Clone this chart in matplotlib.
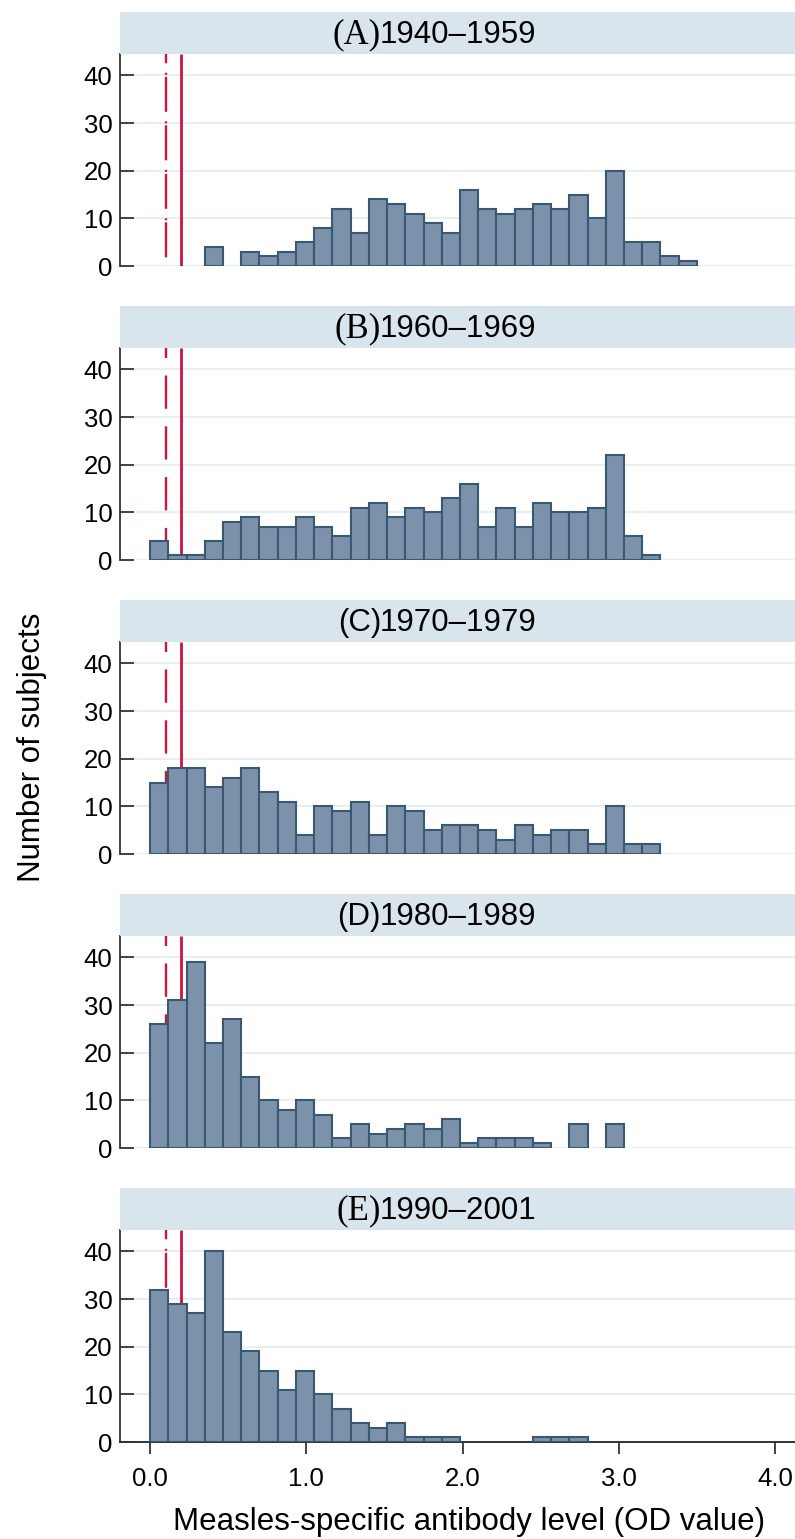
import matplotlib.pyplot as plt
import numpy as np
from matplotlib.patches import Rectangle

plt.rcParams['font.family'] = ['Liberation Sans', 'DejaVu Sans']
plt.rcParams['lines.scale_dashes'] = False

# histogram counts per bin (30 bins of equal width from 0 to 3.5 OD)
bin_start = 0.0
bin_width = 3.5 / 30

counts_a = [0, 0, 0, 4, 0, 3, 2, 3, 5, 8, 12, 7, 14, 13, 11, 9, 7, 16, 12, 11,
            12, 13, 12, 15, 10, 20, 5, 5, 2, 1]
counts_b = [4, 1, 1, 4, 8, 9, 7, 7, 9, 7, 5, 11, 12, 9, 11, 10, 13, 16, 7, 11,
            7, 12, 10, 10, 11, 22, 5, 1, 0, 0]
counts_c = [15, 18, 18, 14, 16, 18, 13, 11, 4, 10, 9, 11, 4, 10, 9, 5, 6, 6, 5, 3,
            6, 4, 5, 5, 2, 10, 2, 2, 0, 0]
counts_d = [26, 31, 39, 22, 27, 15, 10, 8, 10, 7, 2, 5, 3, 4, 5, 4, 6, 1, 2, 2,
            2, 1, 0, 5, 0, 5, 0, 0, 0, 0]
counts_e = [32, 29, 27, 40, 23, 19, 15, 11, 15, 10, 7, 4, 3, 4, 1, 1, 1, 0, 0, 0,
            0, 1, 1, 1, 0, 0, 0, 0, 0, 0]

letters = ['(A)', '(B)', '(C)', '(D)', '(E)']
periods = ['1940\u20131959', '1960\u20131969', '1970\u20131979', '1980\u20131989', '1990\u20132001']
letter_fonts = ['Liberation Serif', 'Liberation Serif', 'Liberation Sans', 'Liberation Sans', 'Liberation Serif']
cut_low = 0.1
cut_high = 0.2
x_ticks = [0, 1, 2, 3, 4]
x_ticklabels = ['0.0', '1.0', '2.0', '3.0', '4.0']
y_ticks = [0, 10, 20, 30, 40]

all_counts = [counts_a, counts_b, counts_c, counts_d, counts_e]

W, H = 795, 1539
fig = plt.figure(figsize=(W / 100, H / 100), dpi=100)


def fx(px):
    return px / W


def fy(py):
    return 1 - py / H


fill = '#7c92aa'
edge = '#385873'
red = '#cf1339'
header_col = '#d9e5ec'
grid_col = '#e6eff3'
dark = '#333333'

left_px, right_px = 120, 795
hdr_h, plot_h = 42, 212

px2pt = 0.72
dashdot = (25.7 * px2pt, (35 * px2pt, 9.5 * px2pt, 2 * px2pt, 2 * px2pt))
dashed = (23.3 * px2pt, (33.3 * px2pt, 17.5 * px2pt))
low_styles = [dashdot, dashed, dashed, dashed, dashdot]

for i, counts in enumerate(all_counts):
    top = 12 + 294 * i
    plot_top = top + hdr_h
    plot_bot = plot_top + plot_h

    fig.add_artist(Rectangle((fx(left_px), fy(plot_top)), fx(right_px) - fx(left_px),
                             hdr_h / H, transform=fig.transFigure,
                             facecolor=header_col, edgecolor='none'))
    serif = letter_fonts[i] == 'Liberation Serif'
    fig.text(fx(381), fy(top + 31), letters[i], ha='right', va='baseline',
             family=letter_fonts[i], size=25 if serif else 22.5)
    fig.text(fx(380), fy(top + 31), periods[i], ha='left', va='baseline', size=22.5)

    ax = fig.add_axes([fx(left_px), fy(plot_bot), fx(right_px) - fx(left_px), plot_h / H])
    c = np.array(counts, dtype=float)
    lefts = bin_start + bin_width * np.arange(len(c))
    m = c > 0
    ax.bar(lefts[m], c[m], width=bin_width, align='edge', color=fill,
           edgecolor=edge, linewidth=1.5, zorder=3)

    tr = ax.get_xaxis_transform()
    ax.plot([cut_low, cut_low], [1, 0], transform=tr, color=red, lw=1.7,
            linestyle=low_styles[i], zorder=2, solid_capstyle='butt', dash_capstyle='butt')
    ax.plot([cut_high, cut_high], [1, 0], transform=tr, color=red, lw=2.0,
            zorder=2, solid_capstyle='butt')

    ax.set_xlim(-0.193, 4.128)
    ax.set_ylim(0, 44.5)
    ax.set_yticks(y_ticks)
    ax.yaxis.grid(True, color=grid_col, lw=1.5)
    ax.set_axisbelow(True)
    ax.tick_params(axis='y', direction='in', length=10, width=1.3, color=dark,
                   labelsize=18.5, pad=5.5)
    for s in ['top', 'right']:
        ax.spines[s].set_visible(False)
    ax.spines['left'].set_color(dark)
    ax.spines['left'].set_linewidth(1.3)

    if i < 4:
        ax.spines['bottom'].set_visible(False)
        ax.tick_params(axis='x', length=0, labelbottom=False)
        ax.set_xticks(x_ticks)
    else:
        ax.spines['bottom'].set_color(dark)
        ax.spines['bottom'].set_linewidth(1.4)
        ax.set_xticks(x_ticks)
        ax.set_xticklabels(x_ticklabels)
        ax.tick_params(axis='x', direction='out', length=8.4, width=1.3, color=dark,
                       labelsize=18.5, pad=9.5)

fig.text(fx(32), fy(747), 'Number of subjects', rotation=90, ha='center', va='center', size=22.5)
fig.text(fx(469), fy(1530), 'Measles-specific antibody level (OD value)', ha='center',
         va='baseline', size=22.5)

fig.savefig('out.png', dpi=100)
